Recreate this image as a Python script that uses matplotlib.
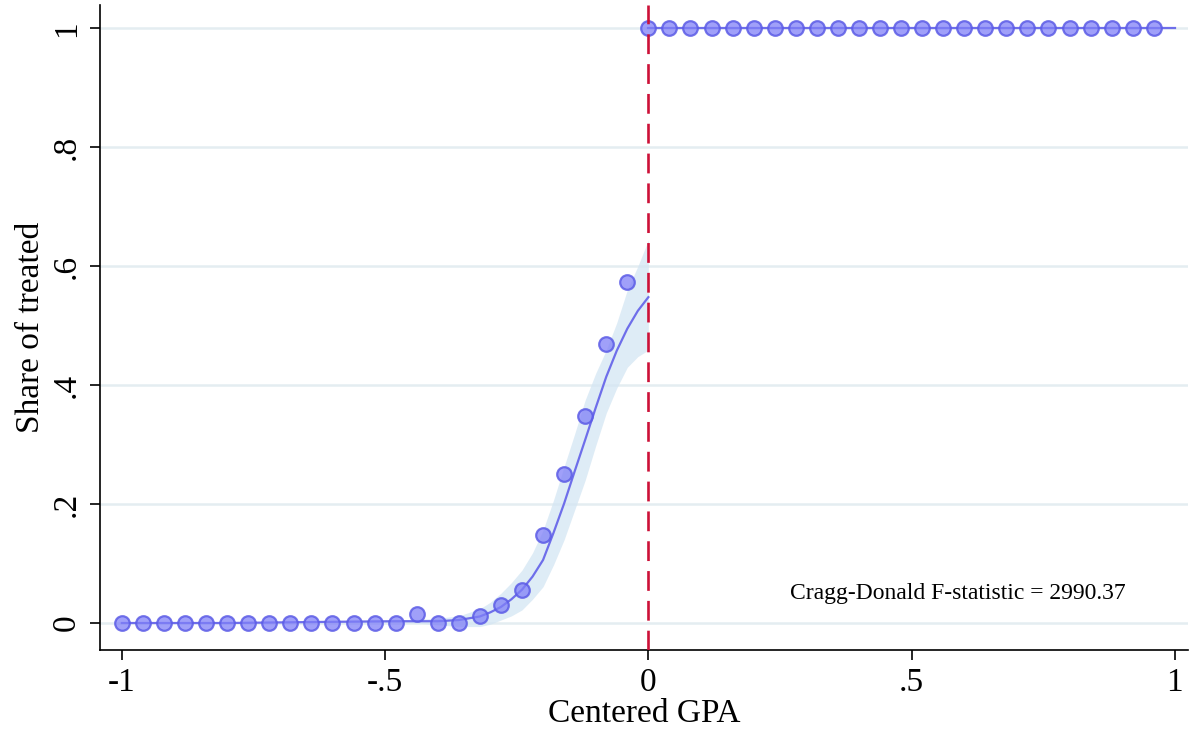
import numpy as np
import matplotlib.pyplot as plt

plt.rcParams['font.family'] = ['Liberation Serif', 'DejaVu Serif']

# bin means below the cutoff (centered GPA)
x_left = [-1.00, -0.96, -0.92, -0.88, -0.84, -0.80, -0.76, -0.72, -0.68, -0.64,
          -0.60, -0.56, -0.52, -0.48, -0.44, -0.40, -0.36, -0.32, -0.28, -0.24,
          -0.20, -0.16, -0.12, -0.08, -0.04]
y_left = [0, 0, 0, 0, 0, 0, 0, 0, 0, 0,
          0, 0, 0, 0, 0.015, 0, 0, 0.012, 0.031, 0.055,
          0.148, 0.25, 0.348, 0.469, 0.574]

# bin means above the cutoff
x_right = [0.00, 0.04, 0.08, 0.12, 0.16, 0.20, 0.24, 0.28, 0.32, 0.36,
           0.40, 0.44, 0.48, 0.52, 0.56, 0.60, 0.64, 0.68, 0.72, 0.76,
           0.80, 0.84, 0.88, 0.92, 0.96]
y_right = [1] * 25

# fitted polynomial and confidence band (left of cutoff)
fit_x = [-1.00, -0.80, -0.60, -0.48, -0.44, -0.40, -0.36, -0.32, -0.30, -0.28,
         -0.26, -0.24, -0.22, -0.20, -0.18, -0.16, -0.14, -0.12, -0.10, -0.08,
         -0.06, -0.04, -0.02, 0.00]
fit_y = [0.0, 0.0, 0.002, 0.003, 0.003, 0.003, 0.005, 0.011, 0.018, 0.027,
         0.040, 0.056, 0.078, 0.106, 0.152, 0.201, 0.255, 0.308, 0.362, 0.414,
         0.458, 0.495, 0.525, 0.548]
ci_lo = [0.0, 0.0, 0.0, 0.001, 0.0, -0.003, -0.006, -0.006, -0.002, 0.005,
         0.012, 0.022, 0.040, 0.061, 0.098, 0.140, 0.190, 0.240, 0.298, 0.353,
         0.395, 0.430, 0.448, 0.459]
ci_hi = [0.0, 0.0, 0.004, 0.005, 0.006, 0.008, 0.012, 0.024, 0.035, 0.050,
         0.068, 0.089, 0.118, 0.156, 0.207, 0.263, 0.318, 0.375, 0.420, 0.459,
         0.505, 0.560, 0.600, 0.644]

fit_x_r = [0.0, 1.0]
fit_y_r = [1.0, 1.0]

fstat = 2990.37

fig, ax = plt.subplots(figsize=(11.91, 7.46), dpi=100)
fig.subplots_adjust(left=0.084, right=0.9975, bottom=0.129, top=0.993)

for yv in [0, 0.2, 0.4, 0.6, 0.8, 1]:
    ax.axhline(yv, color='#e4edf1', lw=1.8, zorder=0)

ax.fill_between(fit_x, ci_lo, ci_hi, color='#d4e6f3', alpha=0.75, lw=0, zorder=1)
ax.plot(fit_x, fit_y, color='#6e6eea', lw=1.6, zorder=2)
ax.plot(fit_x_r, fit_y_r, color='#6e6eea', lw=1.6, zorder=2)

mk = dict(marker='o', ls='none', ms=10.5, mfc=(0.5, 0.5, 0.97, 0.75),
          mec=(0.36, 0.36, 0.9, 0.85), mew=1.6, zorder=3)
ax.plot(x_left, y_left, **mk)
ax.plot(x_right, y_right, **mk)

ax.axvline(0, color='#cc1138', lw=1.9, dashes=(7.5, 3.8), zorder=4)

ax.text(0.588, 0.049, 'Cragg-Donald F-statistic = %.2f' % fstat, fontsize=17,
        ha='center', va='center', zorder=5)

ax.set_xlim(-1.0414, 1.025)
ax.set_ylim(-0.045, 1.039)
ax.set_xticks([-1, -0.5, 0, 0.5, 1])
ax.set_xticklabels(['-1', '-.5', '0', '.5', '1'])
ax.set_yticks([0, 0.2, 0.4, 0.6, 0.8, 1])
ax.set_yticklabels(['0', '.2', '.4', '.6', '.8', '1'], rotation=90, va='center')
ax.tick_params(labelsize=24, length=7, width=1.2, direction='out', pad=6)

ax.spines['top'].set_visible(False)
ax.spines['right'].set_visible(False)
ax.spines['left'].set_linewidth(1.2)
ax.spines['bottom'].set_linewidth(1.2)

ax.set_xlabel('Centered GPA', fontsize=24, labelpad=0)
ax.set_ylabel('Share of treated', fontsize=24, labelpad=4)

plt.savefig('out.png', dpi=100)
